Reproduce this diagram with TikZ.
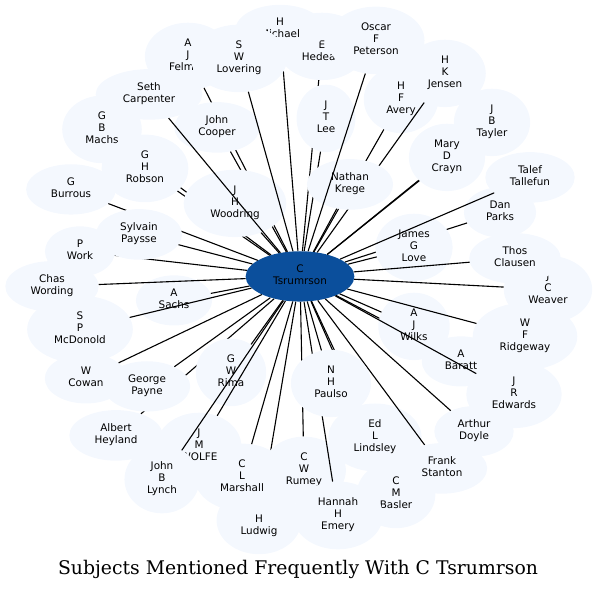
\documentclass[tikz,border=0pt]{standalone}
\usepackage{fontspec}
\usepackage{xcolor}
\usetikzlibrary{shapes.geometric}
\newfontfamily\nodefont{DejaVu Sans}
\newfontfamily\captionfont{DejaVu Serif}
\definecolor{SubjFill}{HTML}{F4F8FE}
\definecolor{HubBlue}{HTML}{0B4F9C}

\begin{document}
\begin{tikzpicture}[x=1pt,y=-1pt,
    subj/.style={ellipse, fill=SubjFill, inner xsep=11.6pt, inner ysep=6pt,
      align=center, font=\nodefont\fontsize{10.4}{12.2}\selectfont,
      execute at begin node=\strut, execute at end node=\strut},
    hub/.style={subj, fill=HubBlue},
    link/.style={line width=1.1pt}]
  \useasboundingbox (0,0) rectangle (598,590);
  \node[hub] (c) at (300,276.4) {C\\Tsrumrson};
  % subjects, back to front
  \foreach \nm/\px/\py/\lbl in {
    hedea/322/45/{\phantom{X}\\E\\Hedea\phantom{n}},
    michael/280/28.5/{H\\Michael},
    felm/188/55/{A\\J\\Felm\phantom{an}},
    cooper/217/126/{John\\Cooper},
    machs/102/128/{G\\B\\Machs},
    robson/145/167/{G\\H\\Robson},
    woodring/235/202/{J\\H\\Woodring},
    lovering/239/57/{S\\W\\Lovering},
    seth/149/93/{Seth\\Carpenter},
    lee/326/117/{J\\T\\Lee},
    avery/401/98/{H\\F\\Avery},
    jensen/445/72/{H\\K\\Jensen},
    nathan/350/183/{Nathan\\Krege},
    oscar/376/39/{Oscar\\F\\Peterson},
    tayler/492/121/{J\\B\\Tayler},
    crayn/447/156/{Mary\\D\\Crayn},
    dan/500/211/{Dan\\Parks},
    love/414/246/{James\\G\\Love},
    talef/530/176/{Talef\\Tallefun},
    weaver/548/288/{J\\C\\Weaver},
    clausen/515/257/{Thos\\Clausen},
    baratt/461/360/{A\\Baratt},
    wilks/414/325/{A\\J\\Wilks},
    ridgeway/525/335/{W\\F\\Ridgeway},
    edwards/514/393/{J\\R\\Edwards},
    doyle/474/430/{Arthur\\Doyle},
    basler/396/493/{C\\M\\Basler},
    lindsley/375/436/{Ed\\L\\Lindsley},
    stanton/442/467/{Frank\\Stanton},
    ludwig/259/519/{\phantom{G}\\H\\Ludwig},
    marshall/242/476/{C\\L\\Marshall},
    rumey/304/469/{C\\W\\Rumey},
    hannah/338/514/{Hannah\\H\\Emery},
    paulso/331/382/{N\\H\\Paulso},
    heyland/116/434/{Albert\\Heyland},
    rima/231/371/{G\\W\\Rima},
    wolfe/199/445/{J\\M\\WOLFE},
    lynch/162/478/{John\\B\\Lynch},
    payne/147/385/{George\\Payne},
    cowan/86/377/{W\\Cowan},
    sachs/174/299/{A\\Sachs},
    mcdonold/80/328/{S\\P\\McDonold},
    chas/52/285/{Chas\\Wording},
    work/80/250/{P\\Work},
    burrous/71/188/{G\\Burrous},
    sylvain/139/233/{Sylvain\\Paysse}%
  }{
    \node[subj] (\nm) at (\px,\py+1.4) {\lbl};
    \draw[link] (c) -- (\nm);
  }
  \node[font=\captionfont\fontsize{18.8}{22}\selectfont, anchor=base] (title)
    at (298,574.5) {Subjects Mentioned Frequently With C Tsrumrson};
\end{tikzpicture}
\end{document}
